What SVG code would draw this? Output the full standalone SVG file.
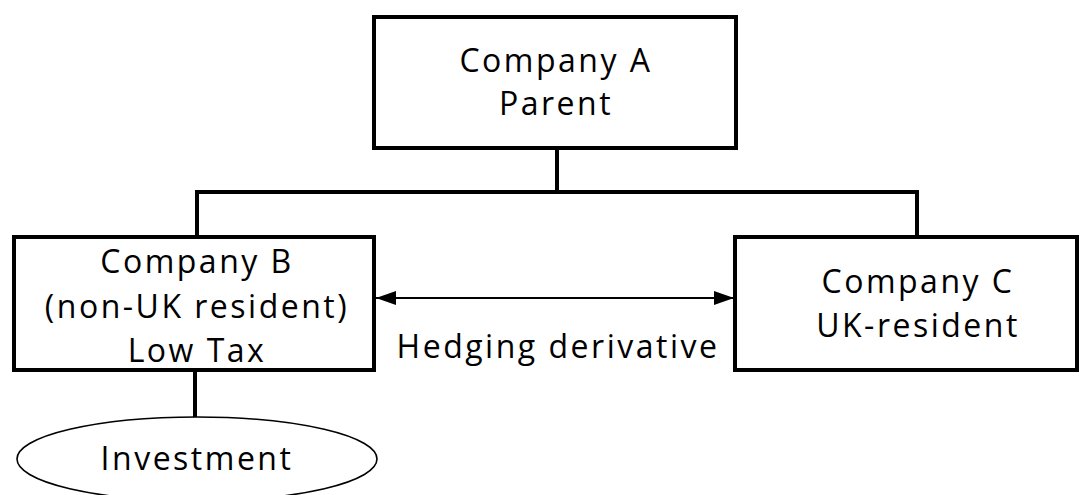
<svg xmlns="http://www.w3.org/2000/svg" width="1082" height="495" viewBox="0 0 1082 495">
  <defs>
    <style>
      .box { fill: #ffffff; stroke: #000000; stroke-width: 4; }
      .oval { fill: #ffffff; stroke: #000000; stroke-width: 1.6; }
      .wire { fill: none; stroke: #000000; stroke-width: 4; }
      .link { fill: none; stroke: #000000; stroke-width: 2; }
      text { font-family: "Open Sans", "Liberation Sans", sans-serif; font-size: 32px; letter-spacing: 2.5px; fill: #000000; text-anchor: middle; }
    </style>
    <marker id="head" viewBox="0 0 20 14" refX="20" refY="7" markerWidth="20" markerHeight="14" markerUnits="userSpaceOnUse" orient="auto-start-reverse">
      <path d="M0,0 L20,7 L0,14 Z" fill="#000000"/>
    </marker>
  </defs>

  <!-- ownership and derivative connectors -->
  <g id="connectors">
    <path class="wire" d="M557,148 V192"/>
    <path class="wire" d="M197,237 V192 H917 V237"/>
    <path class="wire" d="M195,370 V417"/>
    <path class="link" d="M376,298 H734" marker-start="url(#head)" marker-end="url(#head)"/>
    <text x="558" y="358">Hedging derivative</text>
  </g>

  <g id="company-a">
    <rect class="box" x="374" y="17" width="362" height="131"/>
    <text x="556" y="72">Company A</text>
    <text x="556" y="115">Parent</text>
  </g>

  <g id="company-b">
    <rect class="box" x="14" y="237" width="360" height="133"/>
    <text x="197" y="273">Company B</text>
    <text x="197" y="318">(non-UK resident)</text>
    <text x="197" y="362">Low Tax</text>
  </g>

  <g id="company-c">
    <rect class="box" x="735" y="237" width="342" height="133"/>
    <text x="918" y="293">Company C</text>
    <text x="918" y="337">UK-resident</text>
  </g>

  <g id="investment">
    <ellipse class="oval" cx="197" cy="459" rx="180" ry="42"/>
    <text x="197" y="470">Investment</text>
  </g>
</svg>
